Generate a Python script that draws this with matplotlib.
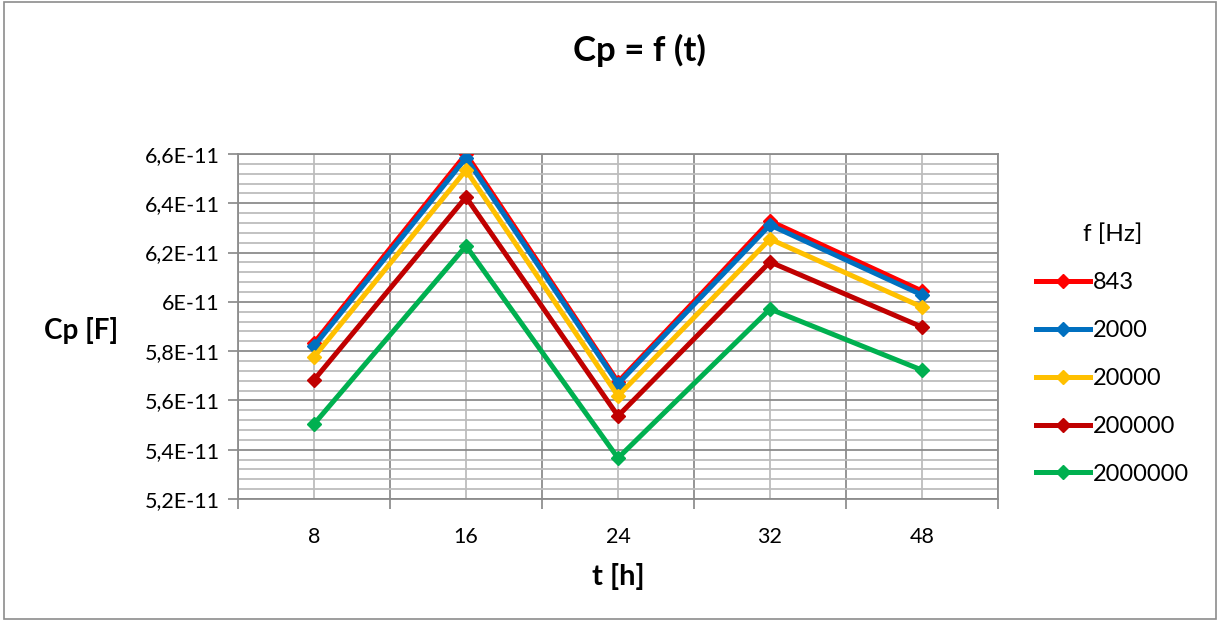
import numpy as np
import matplotlib.pyplot as plt
from matplotlib.ticker import MultipleLocator, FixedLocator, FuncFormatter
from matplotlib.patches import Rectangle

plt.rcParams['font.family'] = ['Lato', 'DejaVu Sans']

# Daten
zeiten = ["8", "16", "24", "32", "48"]
frequenzen = ["843", "2000", "20000", "200000", "2000000"]
cp_843 = [5.833e-11, 6.600e-11, 5.675e-11, 6.328e-11, 6.044e-11]
cp_2000 = [5.820e-11, 6.584e-11, 5.667e-11, 6.312e-11, 6.028e-11]
cp_20000 = [5.776e-11, 6.535e-11, 5.618e-11, 6.255e-11, 5.979e-11]
cp_200000 = [5.683e-11, 6.425e-11, 5.537e-11, 6.162e-11, 5.898e-11]
cp_2000000 = [5.504e-11, 6.227e-11, 5.366e-11, 5.971e-11, 5.723e-11]
farben = ["#ff0000", "#0070c0", "#ffc000", "#c00000", "#00b050"]

fig = plt.figure(figsize=(12.2, 6.21), dpi=100)
ax = fig.add_axes([238 / 1220, 1 - 499 / 621, 760 / 1220, 345 / 621])

x = np.arange(len(zeiten))
for werte, farbe, name in zip([cp_843, cp_2000, cp_20000, cp_200000, cp_2000000], farben, frequenzen):
    ax.plot(x, werte, color=farbe, lw=3.6, marker='D', ms=7.5, label=name, zorder=3)

ax.set_xlim(-0.5, 4.5)
ax.set_ylim(5.2e-11, 6.6e-11)

# x-Achse: Trennlinien an Kategoriegrenzen, Beschriftung in der Mitte
ax.xaxis.set_major_locator(FixedLocator(np.arange(-0.5, 5, 1)))
ax.set_xticklabels([])
ax.set_xticks(x, zeiten, minor=True)
ax.tick_params(axis='x', which='major', length=7, width=1.2, color='#868686', direction='out')
ax.tick_params(axis='x', which='minor', length=0, pad=20, labelsize=15.5)

# y-Achse
ax.yaxis.set_major_locator(MultipleLocator(0.2e-11))
ax.yaxis.set_minor_locator(MultipleLocator(0.04e-11))
ax.yaxis.set_major_formatter(FuncFormatter(lambda v, p: ("%gE-11" % round(v / 1e-11, 2)).replace('.', ',')))
ax.yaxis.get_offset_text().set_visible(False)
ax.tick_params(axis='y', which='major', length=7, width=1.2, color='#868686', direction='out', labelsize=15.5, pad=6)
ax.tick_params(axis='y', which='minor', length=0)

ax.grid(which='major', axis='both', color='#8c8c8c', lw=1.3, zorder=0)
ax.grid(which='minor', axis='both', color='#bdbdbd', lw=1.3, zorder=0)
ax.set_axisbelow(True)
for s in ax.spines.values():
    s.set_color('#8c8c8c')
    s.set_linewidth(1.3)

ax.set_xlabel("t [h]", fontsize=21, fontweight='bold', labelpad=12)
fig.text(81 / 1220, 1 - 331 / 621, "Cp [F]", fontsize=20, fontweight='bold', ha='center', va='center')
fig.text(639 / 1220, 1 - 50 / 621, "Cp = f (t)", fontsize=25, fontweight='bold', ha='center', va='center')

leg = ax.legend(loc='center left', bbox_to_anchor=(1.022, 0.42), frameon=False, title="f [Hz]",
                fontsize=17, title_fontsize=17.5, handlelength=2.3, labelspacing=1.14, handletextpad=0.1)

# Rahmen um das Diagramm
fig.patches.append(Rectangle((0.003, 0.003), 0.994, 0.994, transform=fig.transFigure,
                             fill=False, edgecolor='#8c8c8c', lw=1.2))

plt.savefig("out.png", dpi=100)
